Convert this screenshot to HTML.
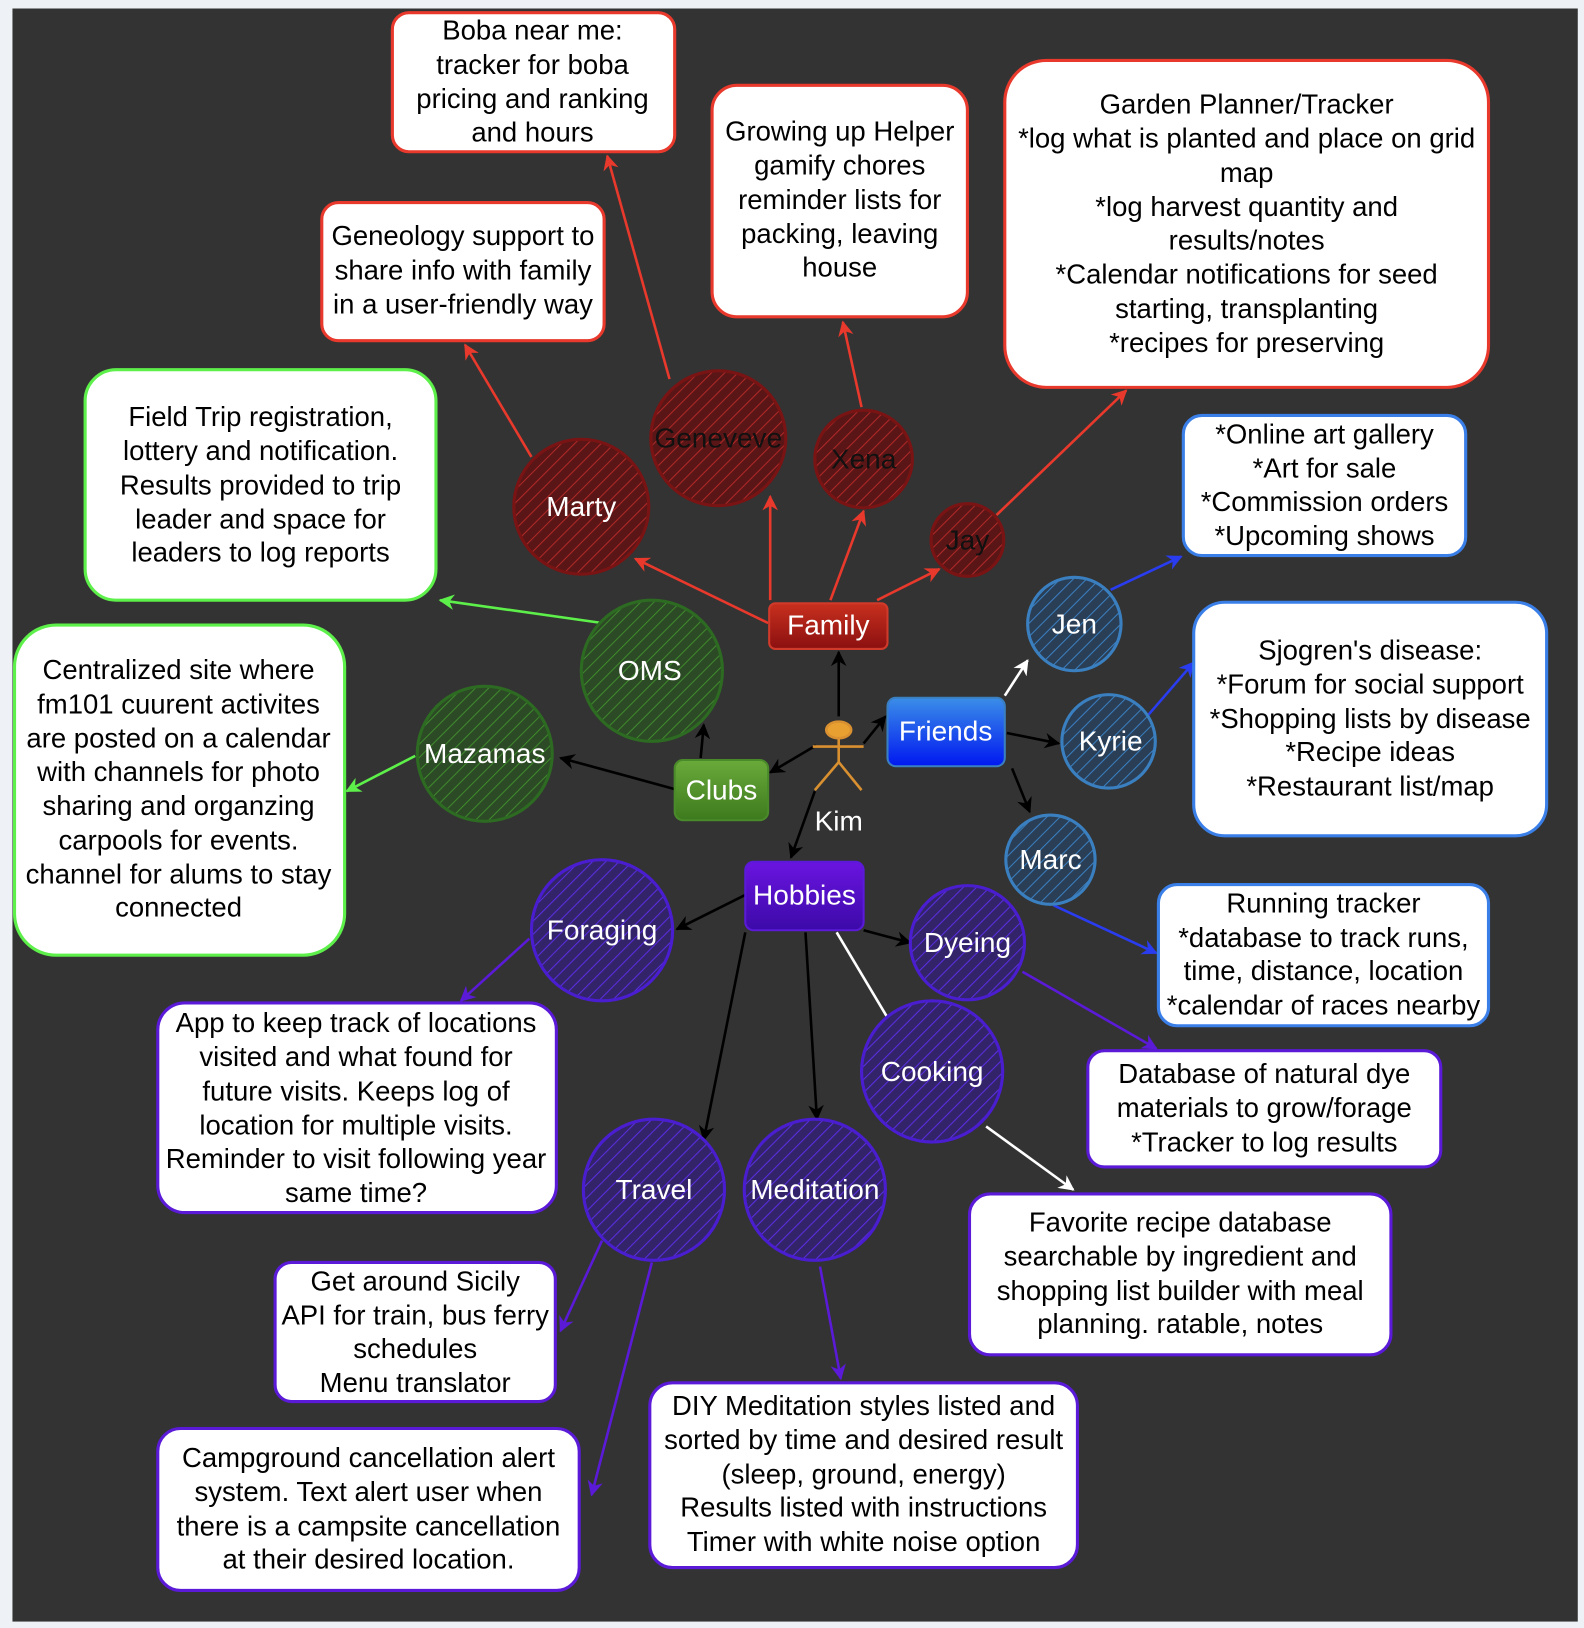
<!DOCTYPE html>
<html><head><meta charset="utf-8"><style>
html,body{margin:0;padding:0;background:#eef1f5;}
svg{display:block}
text{font-family:"Liberation Sans",sans-serif;}
</style></head><body>
<svg width="1584" height="1628" viewBox="0 0 1526 1568" xmlns="http://www.w3.org/2000/svg">
<defs>
<pattern id="hr" width="9" height="9" patternUnits="userSpaceOnUse" patternTransform="rotate(45)"><rect width="9" height="9" fill="#5a1616"/><line x1="0" y1="0" x2="0" y2="9" stroke="#b02828" stroke-width="2"/></pattern>
<pattern id="hg" width="9" height="9" patternUnits="userSpaceOnUse" patternTransform="rotate(45)"><rect width="9" height="9" fill="#2c4a25"/><line x1="0" y1="0" x2="0" y2="9" stroke="#3f8a2e" stroke-width="2"/></pattern>
<pattern id="hb" width="9" height="9" patternUnits="userSpaceOnUse" patternTransform="rotate(45)"><rect width="9" height="9" fill="#2a3e55"/><line x1="0" y1="0" x2="0" y2="9" stroke="#3a7fc0" stroke-width="2"/></pattern>
<pattern id="hp" width="9" height="9" patternUnits="userSpaceOnUse" patternTransform="rotate(45)"><rect width="9" height="9" fill="#33246a"/><line x1="0" y1="0" x2="0" y2="9" stroke="#5a2ee0" stroke-width="2"/></pattern>
<linearGradient id="gr" x1="0" y1="0" x2="0" y2="1"><stop offset="0" stop-color="#c8301e"/><stop offset="1" stop-color="#8a1010"/></linearGradient>
<linearGradient id="gb" x1="0" y1="0" x2="0" y2="1"><stop offset="0" stop-color="#3b8ee8"/><stop offset="1" stop-color="#0018f0"/></linearGradient>
<linearGradient id="gg" x1="0" y1="0" x2="0" y2="1"><stop offset="0" stop-color="#6aaa3a"/><stop offset="1" stop-color="#3d7a1e"/></linearGradient>
<linearGradient id="gp" x1="0" y1="0" x2="0" y2="1"><stop offset="0" stop-color="#6a14e0"/><stop offset="1" stop-color="#3c0aa8"/></linearGradient>
<marker id="ar" viewBox="0 0 10 10" refX="9" refY="5" markerWidth="6" markerHeight="6" orient="auto"><path d="M0,0L10,5L0,10L3,5z" fill="#e8392c"/></marker>
<marker id="ak" viewBox="0 0 10 10" refX="9" refY="5" markerWidth="6" markerHeight="6" orient="auto"><path d="M0,0L10,5L0,10L3,5z" fill="#000"/></marker>
<marker id="aw" viewBox="0 0 10 10" refX="9" refY="5" markerWidth="6" markerHeight="6" orient="auto"><path d="M0,0L10,5L0,10L3,5z" fill="#fff"/></marker>
<marker id="ag" viewBox="0 0 10 10" refX="9" refY="5" markerWidth="6" markerHeight="6" orient="auto"><path d="M0,0L10,5L0,10L3,5z" fill="#5ef04a"/></marker>
<marker id="ab" viewBox="0 0 10 10" refX="9" refY="5" markerWidth="6" markerHeight="6" orient="auto"><path d="M0,0L10,5L0,10L3,5z" fill="#2a3cf0"/></marker>
<marker id="ap" viewBox="0 0 10 10" refX="9" refY="5" markerWidth="6" markerHeight="6" orient="auto"><path d="M0,0L10,5L0,10L3,5z" fill="#5a1ad8"/></marker>
</defs>
<rect x="12" y="8" width="1508" height="1554" fill="#333"/>

<g stroke-width="2.5" fill="none">
<g stroke="#e8392c" marker-end="url(#ar)">
<line x1="740" y1="600" x2="612" y2="538"/><line x1="742" y1="578" x2="742" y2="478"/>
<line x1="800" y1="578" x2="832" y2="492"/><line x1="845" y1="578" x2="905" y2="548"/>
<line x1="512" y1="440" x2="448" y2="332"/><line x1="645" y1="365" x2="585" y2="150"/>
<line x1="830" y1="392" x2="812" y2="310"/><line x1="960" y1="496" x2="1085" y2="376"/>
</g>
<g stroke="#000" marker-end="url(#ak)">
<line x1="808" y1="690" x2="808" y2="628"/><line x1="832" y1="716" x2="853" y2="690"/>
<line x1="786" y1="718" x2="742" y2="744"/><line x1="785" y1="762" x2="762" y2="826"/>
<line x1="675" y1="730" x2="678" y2="698"/><line x1="650" y1="760" x2="540" y2="730"/>
<line x1="970" y1="706" x2="1020" y2="716"/><line x1="975" y1="740" x2="992" y2="782"/>
<line x1="718" y1="862" x2="652" y2="895"/><line x1="832" y1="896" x2="877" y2="908"/>
<line x1="718" y1="898" x2="678" y2="1098"/><line x1="776" y1="898" x2="787" y2="1078"/>
</g>
<g stroke="#fff" marker-end="url(#aw)">
<line x1="968" y1="670" x2="990" y2="636"/><line x1="806" y1="898" x2="868" y2="1002"/>
<line x1="950" y1="1085" x2="1034" y2="1146"/>
</g>
<g stroke="#5ef04a" marker-end="url(#ag)">
<line x1="580" y1="600" x2="424" y2="578"/><line x1="400" y1="728" x2="334" y2="762"/>
</g>
<g stroke="#2a3cf0" marker-end="url(#ab)">
<line x1="1070" y1="568" x2="1138" y2="536"/><line x1="1105" y1="690" x2="1150" y2="638"/>
<line x1="1015" y1="872" x2="1114" y2="918"/>
</g>
<g stroke="#5a1ad8" marker-end="url(#ap)">
<line x1="510" y1="904" x2="444" y2="964"/><line x1="985" y1="936" x2="1114" y2="1010"/>
<line x1="580" y1="1195" x2="540" y2="1282"/><line x1="628" y1="1216" x2="570" y2="1440"/>
<line x1="790" y1="1220" x2="810" y2="1328"/>
</g>
</g>

<g stroke-width="3">
<circle cx="560" cy="488" r="65" fill="url(#hr)" stroke="#7a1414"/>
<circle cx="692" cy="422" r="65" fill="url(#hr)" stroke="#7a1414"/>
<circle cx="832" cy="442" r="47" fill="url(#hr)" stroke="#7a1414"/>
<circle cx="932" cy="520" r="35" fill="url(#hr)" stroke="#7a1414"/>
<circle cx="628" cy="646" r="68" fill="url(#hg)" stroke="#2d6a22"/>
<circle cx="467" cy="726" r="65" fill="url(#hg)" stroke="#2d6a22"/>
<circle cx="1035" cy="601" r="45" fill="url(#hb)" stroke="#3a7fc0"/>
<circle cx="1068" cy="714" r="45" fill="url(#hb)" stroke="#3a7fc0"/>
<circle cx="1012" cy="828" r="43" fill="url(#hb)" stroke="#3a7fc0"/>
<circle cx="580" cy="896" r="68" fill="url(#hp)" stroke="#4a1ed0"/>
<circle cx="932" cy="908" r="55" fill="url(#hp)" stroke="#4a1ed0"/>
<circle cx="898" cy="1032" r="68" fill="url(#hp)" stroke="#4a1ed0"/>
<circle cx="630" cy="1146" r="68" fill="url(#hp)" stroke="#4a1ed0"/>
<circle cx="785" cy="1146" r="68" fill="url(#hp)" stroke="#4a1ed0"/>
</g>
<g font-size="27" text-anchor="middle" fill="#fff">
<text x="560" y="497">Marty</text>
<text x="692" y="431" fill="#111">Geneveve</text>
<text x="832" y="451" fill="#111">Xena</text>
<text x="932" y="529" fill="#111">Jay</text>
<text x="626" y="655">OMS</text>
<text x="467" y="735">Mazamas</text>
<text x="1035" y="610">Jen</text>
<text x="1070" y="723">Kyrie</text>
<text x="1012" y="837">Marc</text>
<text x="580" y="905">Foraging</text>
<text x="932" y="917">Dyeing</text>
<text x="898" y="1041">Cooking</text>
<text x="630" y="1155">Travel</text>
<text x="785" y="1155">Meditation</text>
</g>

<rect x="741" y="581" width="114" height="44" rx="6" fill="url(#gr)" stroke="#d03a2a" stroke-width="2"/>
<rect x="855" y="672" width="113" height="66" rx="8" fill="url(#gb)" stroke="#3a7fc0" stroke-width="2"/>
<rect x="650" y="732" width="90" height="58" rx="8" fill="url(#gg)" stroke="#4a8a2a" stroke-width="2"/>
<rect x="718" y="830" width="114" height="66" rx="8" fill="url(#gp)" stroke="#5a1ad8" stroke-width="2"/>
<g font-size="27" text-anchor="middle" fill="#fff">
<text x="798" y="611">Family</text>
<text x="911" y="713">Friends</text>
<text x="695" y="770">Clubs</text>
<text x="775" y="871">Hobbies</text>
<text x="808" y="800">Kim</text>
</g>
<g stroke="#d99030" stroke-width="2.5" fill="none">
<ellipse cx="808" cy="703" rx="12" ry="8" fill="#e8a030"/>
<line x1="808" y1="711" x2="808" y2="734"/><line x1="783" y1="719" x2="832" y2="719"/>
<line x1="808" y1="734" x2="785" y2="761"/><line x1="808" y1="734" x2="830" y2="761"/>
</g>

<g fill="#fff" stroke-width="3">
<rect x="378" y="12" width="272" height="134" rx="16" stroke="#e8392c"/>
<rect x="686" y="82" width="246" height="223" rx="24" stroke="#e8392c"/>
<rect x="968" y="58" width="466" height="315" rx="40" stroke="#e8392c"/>
<rect x="310" y="195" width="272" height="133" rx="16" stroke="#e8392c"/>
<rect x="82" y="356" width="338" height="222" rx="30" stroke="#5ef04a"/>
<rect x="1140" y="400" width="272" height="135" rx="18" stroke="#3a7fe8"/>
<rect x="1150" y="580" width="340" height="225" rx="30" stroke="#3a7fe8"/>
<rect x="14" y="602" width="318" height="318" rx="40" stroke="#5ef04a"/>
<rect x="1116" y="852" width="318" height="136" rx="18" stroke="#3a7fe8"/>
<rect x="1048" y="1012" width="340" height="112" rx="16" stroke="#5a1ad8"/>
<rect x="152" y="966" width="384" height="202" rx="26" stroke="#5a1ad8"/>
<rect x="934" y="1150" width="406" height="155" rx="20" stroke="#5a1ad8"/>
<rect x="265" y="1216" width="270" height="134" rx="16" stroke="#5a1ad8"/>
<rect x="626" y="1332" width="412" height="178" rx="22" stroke="#5a1ad8"/>
<rect x="152" y="1376" width="406" height="156" rx="22" stroke="#5a1ad8"/>
</g>
<g font-size="26.5" text-anchor="middle" fill="#000">
<text x="513" y="38">Boba near me:</text><text x="513" y="71">tracker for boba</text><text x="513" y="104">pricing and ranking</text><text x="513" y="136">and hours</text>
<text x="809" y="135">Growing up Helper</text><text x="809" y="168">gamify chores</text><text x="809" y="201">reminder lists for</text><text x="809" y="234">packing, leaving</text><text x="809" y="266">house</text>
<text x="1201" y="109">Garden Planner/Tracker</text><text x="1201" y="142">*log what is planted and place on grid</text><text x="1201" y="175">map</text><text x="1201" y="208">*log harvest quantity and</text><text x="1201" y="240">results/notes</text><text x="1201" y="273">*Calendar notifications for seed</text><text x="1201" y="306">starting, transplanting</text><text x="1201" y="339">*recipes for preserving</text>
<text x="446" y="236">Geneology support to</text><text x="446" y="269">share info with family</text><text x="446" y="302">in a user-friendly way</text>
<text x="251" y="410">Field Trip registration,</text><text x="251" y="443">lottery and notification.</text><text x="251" y="476">Results provided to trip</text><text x="251" y="509">leader and space for</text><text x="251" y="541">leaders to log reports</text>
<text x="1276" y="427">*Online art gallery</text><text x="1276" y="460">*Art for sale</text><text x="1276" y="492">*Commission orders</text><text x="1276" y="525">*Upcoming shows</text>
<text x="1320" y="635">Sjogren's disease:</text><text x="1320" y="668">*Forum for social support</text><text x="1320" y="701">*Shopping lists by disease</text><text x="1320" y="733">*Recipe ideas</text><text x="1320" y="766">*Restaurant list/map</text>
<text x="172" y="654">Centralized site where</text><text x="172" y="687">fm101 cuurent activites</text><text x="172" y="720">are posted on a calendar</text><text x="172" y="752">with channels for photo</text><text x="172" y="785">sharing and organzing</text><text x="172" y="818">carpools for events.</text><text x="172" y="851">channel for alums to stay</text><text x="172" y="883">connected</text>
<text x="1275" y="879">Running tracker</text><text x="1275" y="912">*database to track runs,</text><text x="1275" y="944">time, distance, location</text><text x="1275" y="977">*calendar of races nearby</text>
<text x="1218" y="1043">Database of natural dye</text><text x="1218" y="1076">materials to grow/forage</text><text x="1218" y="1109">*Tracker to log results</text>
<text x="343" y="994">App to keep track of locations</text><text x="343" y="1027">visited and what found for</text><text x="343" y="1060">future visits. Keeps log of</text><text x="343" y="1093">location for multiple visits.</text><text x="343" y="1125">Reminder to visit following year</text><text x="343" y="1158">same time?</text>
<text x="1137" y="1186">Favorite recipe database</text><text x="1137" y="1219">searchable by ingredient and</text><text x="1137" y="1252">shopping list builder with meal</text><text x="1137" y="1284">planning. ratable, notes</text>
<text x="400" y="1243">Get around Sicily</text><text x="400" y="1276">API for train, bus ferry</text><text x="400" y="1308">schedules</text><text x="400" y="1341">Menu translator</text>
<text x="832" y="1363">DIY Meditation styles listed and</text><text x="832" y="1396">sorted by time and desired result</text><text x="832" y="1429">(sleep, ground, energy)</text><text x="832" y="1461">Results listed with instructions</text><text x="832" y="1494">Timer with white noise option</text>
<text x="355" y="1413">Campground cancellation alert</text><text x="355" y="1446">system.  Text alert user when</text><text x="355" y="1479">there is a campsite cancellation</text><text x="355" y="1511">at their desired location.</text>
</g>
</svg>
</body></html>
